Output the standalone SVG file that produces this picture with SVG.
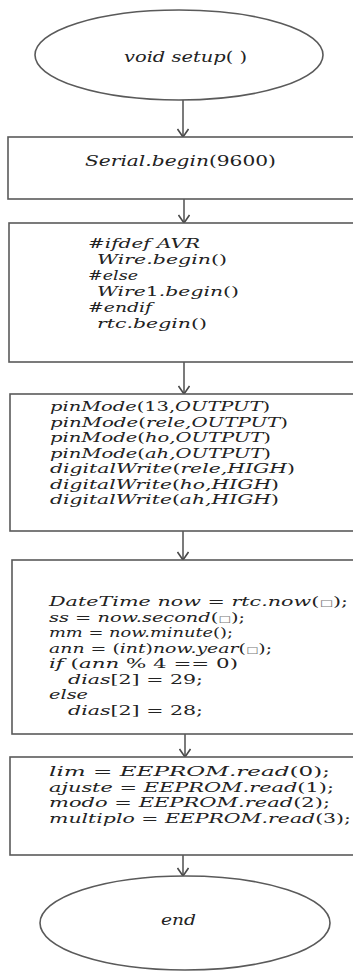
<svg xmlns="http://www.w3.org/2000/svg" width="353" height="971" viewBox="0 0 353 971">
<style>
.shape{fill:#fff;stroke:#5a5a5a;stroke-width:1.6}
.t{font-family:"DejaVu Serif","Liberation Serif",serif;font-style:italic;font-size:13px;fill:#222}
.big{font-size:15px}
.u{font-style:normal}
.sq{font-style:normal;font-size:9px;fill:#777}
.conn{stroke:#5a5a5a;stroke-width:1.6;fill:none;marker-end:url(#arr)}
</style>
<defs>
<marker id="arr" viewBox="0 0 10 12" refX="9" refY="6" markerWidth="10" markerHeight="12" markerUnits="userSpaceOnUse" orient="auto">
<path d="M1,0.5 L9,6 L1,11.5" fill="none" stroke="#4a4a4a" stroke-width="1.6"/>
</marker>
</defs>
<rect width="353" height="971" fill="#fff"/>
<g id="connectors">
<line class="conn" x1="183" y1="100" x2="183" y2="137"/>
<line class="conn" x1="184" y1="199" x2="184" y2="223"/>
<line class="conn" x1="184" y1="362" x2="184" y2="394"/>
<line class="conn" x1="183" y1="531" x2="183" y2="560"/>
<line class="conn" x1="185" y1="734" x2="185" y2="757"/>
<line class="conn" x1="183" y1="855" x2="183" y2="876"/>
</g>
<g id="start">
<ellipse class="shape" cx="179" cy="55" rx="144" ry="45"/>
<text class="t big" x="124" y="62" textLength="123" lengthAdjust="spacingAndGlyphs">void setup<tspan class="u">( )</tspan></text>
</g>
<g id="serial">
<rect class="shape" x="8" y="137" width="352" height="62"/>
<text class="t big" x="85" y="166" textLength="191" lengthAdjust="spacingAndGlyphs">Serial.begin<tspan class="u">(9600)</tspan></text>
</g>
<g id="wire">
<rect class="shape" x="9" y="223" width="352" height="139"/>
<text class="t" x="88" y="248" textLength="112" lengthAdjust="spacingAndGlyphs">#ifdef AVR</text>
<text class="t" x="97" y="264" textLength="130" lengthAdjust="spacingAndGlyphs">Wire.begin<tspan class="u">()</tspan></text>
<text class="t" x="88" y="280" textLength="50" lengthAdjust="spacingAndGlyphs">#else</text>
<text class="t" x="97" y="296" textLength="142" lengthAdjust="spacingAndGlyphs">Wire<tspan class="u">1</tspan>.begin<tspan class="u">()</tspan></text>
<text class="t" x="88" y="312" textLength="64" lengthAdjust="spacingAndGlyphs">#endif</text>
<text class="t" x="97" y="328" textLength="110" lengthAdjust="spacingAndGlyphs">rtc.begin<tspan class="u">()</tspan></text>
</g>
<g id="pins">
<rect class="shape" x="10" y="394" width="352" height="137"/>
<text class="t" x="50" y="411" textLength="220" lengthAdjust="spacingAndGlyphs">pinMode<tspan class="u">(13,</tspan>OUTPUT<tspan class="u">)</tspan></text>
<text class="t" x="50" y="426.5" textLength="238" lengthAdjust="spacingAndGlyphs">pinMode<tspan class="u">(</tspan>rele,OUTPUT<tspan class="u">)</tspan></text>
<text class="t" x="50" y="442" textLength="221" lengthAdjust="spacingAndGlyphs">pinMode<tspan class="u">(</tspan>ho,OUTPUT<tspan class="u">)</tspan></text>
<text class="t" x="50" y="457.5" textLength="221" lengthAdjust="spacingAndGlyphs">pinMode<tspan class="u">(</tspan>ah,OUTPUT<tspan class="u">)</tspan></text>
<text class="t" x="50" y="473" textLength="245" lengthAdjust="spacingAndGlyphs">digitalWrite<tspan class="u">(</tspan>rele,HIGH<tspan class="u">)</tspan></text>
<text class="t" x="50" y="488.5" textLength="229" lengthAdjust="spacingAndGlyphs">digitalWrite<tspan class="u">(</tspan>ho,HIGH<tspan class="u">)</tspan></text>
<text class="t" x="50" y="504" textLength="229" lengthAdjust="spacingAndGlyphs">digitalWrite<tspan class="u">(</tspan>ah,HIGH<tspan class="u">)</tspan></text>
</g>
<g id="datetime">
<rect class="shape" x="12" y="560" width="352" height="174"/>
<text class="t" x="49" y="606" textLength="299" lengthAdjust="spacingAndGlyphs">DateTime now <tspan class="u">=</tspan> rtc.now<tspan class="u">(</tspan><tspan class="sq">□</tspan><tspan class="u">);</tspan></text>
<text class="t" x="49" y="621.5" textLength="196" lengthAdjust="spacingAndGlyphs">ss <tspan class="u">=</tspan> now.second<tspan class="u">(</tspan><tspan class="sq">□</tspan><tspan class="u">);</tspan></text>
<text class="t" x="49" y="637" textLength="184" lengthAdjust="spacingAndGlyphs">mm <tspan class="u">=</tspan> now.minute<tspan class="u">();</tspan></text>
<text class="t" x="49" y="652.5" textLength="223" lengthAdjust="spacingAndGlyphs">ann <tspan class="u">= (</tspan>int<tspan class="u">)</tspan>now.year<tspan class="u">(</tspan><tspan class="sq">□</tspan><tspan class="u">);</tspan></text>
<text class="t" x="49" y="668" textLength="189" lengthAdjust="spacingAndGlyphs">if <tspan class="u">(</tspan>ann <tspan class="u">% 4 == 0)</tspan></text>
<text class="t" x="68" y="683.5" textLength="135" lengthAdjust="spacingAndGlyphs">dias<tspan class="u">[2] = 29;</tspan></text>
<text class="t" x="49" y="699" textLength="39" lengthAdjust="spacingAndGlyphs">else</text>
<text class="t" x="68" y="714.5" textLength="135" lengthAdjust="spacingAndGlyphs">dias<tspan class="u">[2] = 28;</tspan></text>
</g>
<g id="eeprom">
<rect class="shape" x="10" y="757" width="352" height="98"/>
<text class="t" x="49" y="776" textLength="281" lengthAdjust="spacingAndGlyphs">lim <tspan class="u">=</tspan> EEPROM.read<tspan class="u">(0);</tspan></text>
<text class="t" x="49" y="791.5" textLength="285" lengthAdjust="spacingAndGlyphs">ajuste <tspan class="u">=</tspan> EEPROM.read<tspan class="u">(1);</tspan></text>
<text class="t" x="49" y="807" textLength="281" lengthAdjust="spacingAndGlyphs">modo <tspan class="u">=</tspan> EEPROM.read<tspan class="u">(2);</tspan></text>
<text class="t" x="49" y="822.5" textLength="302" lengthAdjust="spacingAndGlyphs">multiplo <tspan class="u">=</tspan> EEPROM.read<tspan class="u">(3);</tspan></text>
</g>
<g id="end">
<ellipse class="shape" cx="185" cy="923" rx="145" ry="47"/>
<text class="t big" x="161" y="925" textLength="35" lengthAdjust="spacingAndGlyphs">end</text>
</g>
</svg>
